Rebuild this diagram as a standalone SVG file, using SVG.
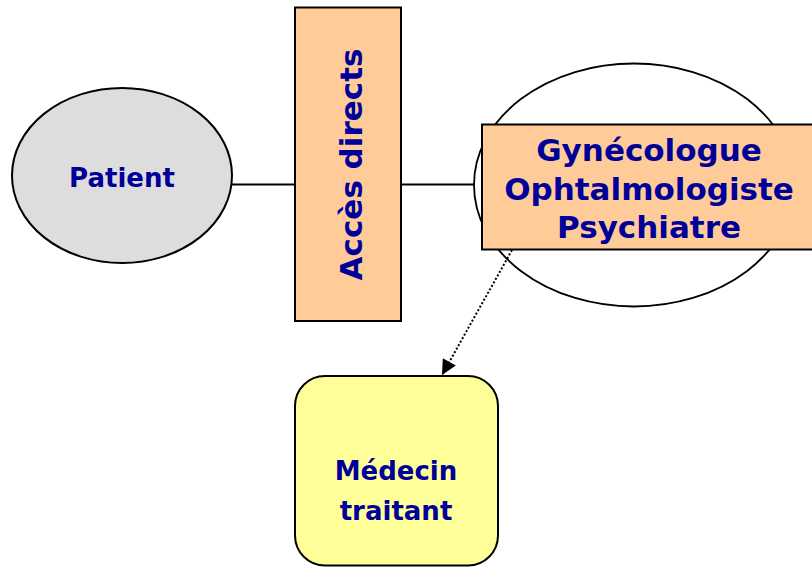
<svg xmlns="http://www.w3.org/2000/svg" width="812" height="567" viewBox="0 0 812 567">
  <defs>
    <marker id="arrowhead" viewBox="0 0 10 10" refX="10" refY="5" markerWidth="16" markerHeight="15" markerUnits="userSpaceOnUse" orient="auto">
      <path d="M0,0 L10,5 L0,10 Z" fill="#000"/>
    </marker>
  </defs>
  <style>
    .lbl { font-family: "DejaVu Sans", Verdana, sans-serif; font-weight: bold; fill: #000099; text-anchor: middle; }
    .edge { stroke: #000; stroke-width: 1.8; fill: none; }
    .box { fill: #ffcc99; stroke: #000; stroke-width: 2; }
  </style>
  <rect width="812" height="567" fill="#fff"/>

  <!-- connectors -->
  <g id="connectors">
    <line class="edge" x1="232" y1="184.5" x2="295" y2="184.5"/>
    <line class="edge" x1="401" y1="184.5" x2="482" y2="184.5"/>
  </g>

  <!-- specialists group (ellipse behind label box) -->
  <g id="specialistes">
    <ellipse cx="634" cy="185" rx="160" ry="121.5" fill="#fff" stroke="#000" stroke-width="1.8"/>
  </g>

  <g id="fleche-medecin">
    <line x1="512" y1="250" x2="442" y2="375" stroke="#000" stroke-width="2" stroke-dasharray="2 2" marker-end="url(#arrowhead)"/>
  </g>

  <g id="patient">
    <ellipse cx="122" cy="175.5" rx="110" ry="87.5" fill="#dddddd" stroke="#000" stroke-width="2"/>
    <text class="lbl" x="122" y="187" font-size="26">Patient</text>
  </g>

  <g id="acces-directs">
    <rect class="box" x="295" y="7.5" width="106" height="313.5"/>
    <text class="lbl" font-size="31" transform="translate(362,164.5) rotate(-90)">Accès directs</text>
  </g>

  <g id="specialistes-label">
    <rect class="box" x="482" y="124.5" width="345" height="125"/>
    <text class="lbl" font-size="31" x="649" y="161">Gynécologue</text>
    <text class="lbl" font-size="31" x="649" y="199.5">Ophtalmologiste</text>
    <text class="lbl" font-size="31" x="649" y="238">Psychiatre</text>
  </g>

  <g id="medecin-traitant">
    <rect x="295" y="376" width="203" height="189.5" rx="30" ry="30" fill="#ffff99" stroke="#000" stroke-width="2"/>
    <text class="lbl" font-size="26" x="396" y="480">Médecin</text>
    <text class="lbl" font-size="26" x="396" y="520">traitant</text>
  </g>
</svg>
